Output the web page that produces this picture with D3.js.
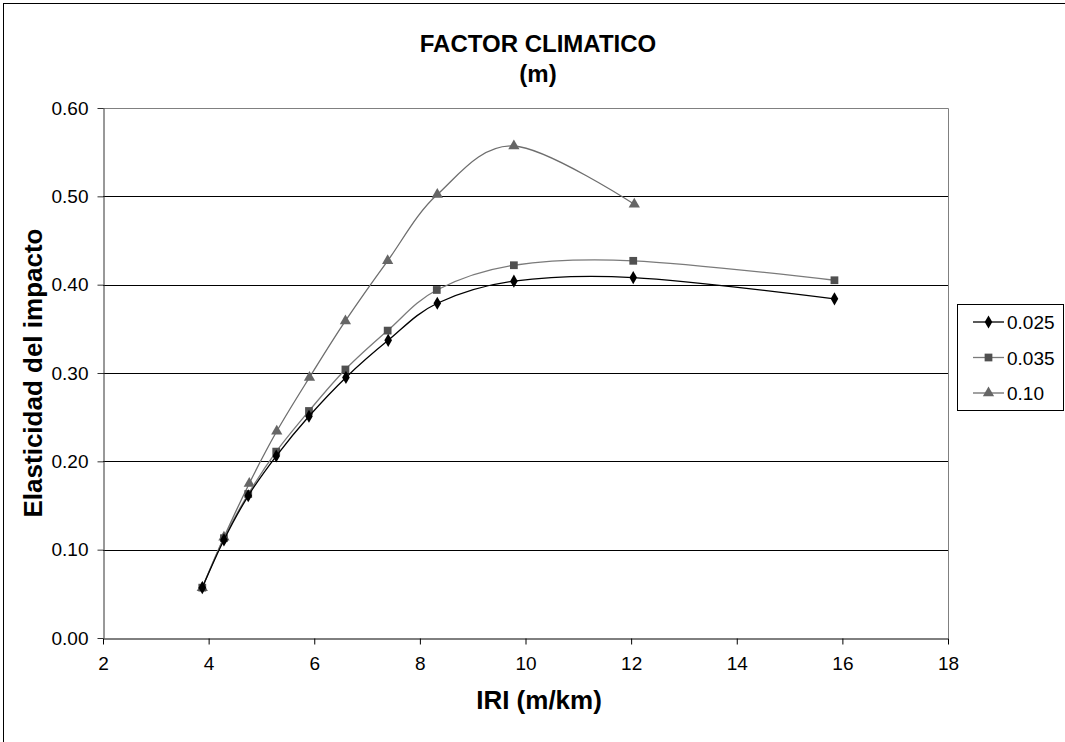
<!DOCTYPE html>
<html><head><meta charset="utf-8">
<script src="https://cdn.jsdelivr.net/npm/d3@7"></script>
<style>body{margin:0;background:#fff}svg{display:block;font-family:"Liberation Sans",Arial,sans-serif}</style>
</head><body>
<svg id="c" width="1065" height="742"></svg>
<script>
const seriesNames = ["0.025", "0.035", "0.10"];
const iri025 = [3.88, 4.29, 4.75, 5.28, 5.90, 6.60, 7.40, 8.33, 9.78, 12.04, 15.85];
const val025 = [0.057, 0.111, 0.161, 0.206, 0.251, 0.295, 0.337, 0.379, 0.404, 0.408, 0.384];
const iri035 = [3.88, 4.29, 4.75, 5.28, 5.90, 6.59, 7.39, 8.32, 9.78, 12.04, 15.85];
const val035 = [0.057, 0.113, 0.163, 0.211, 0.257, 0.304, 0.348, 0.394, 0.422, 0.427, 0.405];
const iri010 = [3.88, 4.29, 4.77, 5.29, 5.91, 6.59, 7.39, 8.33, 9.78, 12.06];
const val010 = [0.057, 0.114, 0.175, 0.234, 0.295, 0.359, 0.427, 0.502, 0.557, 0.491];
const xTicks = [2, 4, 6, 8, 10, 12, 14, 16, 18];
const yTicks = [0, 0.1, 0.2, 0.3, 0.4, 0.5, 0.6];

const svg = d3.select("#c");
const L = 103, R = 948, T = 108, B = 638;
const x = d3.scaleLinear().domain([2, 18]).range([L, R]);
const y = d3.scaleLinear().domain([0, 0.6]).range([B, T]);
const FF = "Liberation Sans, Arial, sans-serif";

// outer border
svg.append("rect").attr("x", 3.5).attr("y", 3.5).attr("width", 1070).attr("height", 760)
  .attr("fill", "none").attr("stroke", "#000").attr("stroke-width", 1);

// gridlines
svg.append("g").selectAll("line").data(yTicks.filter(d => d > 0 && d < 0.6)).join("line")
  .attr("x1", L).attr("x2", R).attr("y1", d => Math.round(y(d)) + 0.5).attr("y2", d => Math.round(y(d)) + 0.5)
  .attr("stroke", "#000").attr("stroke-width", 1);
// plot border top/right
svg.append("path").attr("d", `M${L},${T + 0.5}H${R + 0.5}V${B}`).attr("fill", "none").attr("stroke", "#808080");

// axes
const xAxis = d3.axisBottom(x).tickValues(xTicks).tickSize(6).tickSizeOuter(0).tickPadding(12).tickFormat(d3.format("d"));
const gx = svg.append("g").attr("transform", `translate(0,${B + 0.5})`).call(xAxis);
gx.select(".domain").attr("stroke", "#000");
gx.selectAll(".tick line").attr("stroke", "#000");
gx.selectAll("text").attr("font-size", 19).attr("fill", "#000").attr("font-family", FF);

const yAxis = d3.axisLeft(y).tickValues(yTicks).tickSize(6).tickSizeOuter(0).tickPadding(9).tickFormat(d3.format(".2f"));
const gy = svg.append("g").attr("transform", `translate(${L + 0.5},0)`).call(yAxis);
gy.select(".domain").attr("stroke", "#333");
gy.selectAll(".tick line").attr("stroke", "#333");
gy.selectAll("text").attr("font-size", 19).attr("fill", "#000").attr("font-family", FF);

// series
const series = [
  {name: seriesNames[0], xs: iri025, ys: val025, line: "#000", fill: "#000", shape: d3.symbolDiamond, size: 50},
  {name: seriesNames[1], xs: iri035, ys: val035, line: "#7a7a7a", fill: "#505050", shape: d3.symbolSquare, size: 60},
  {name: seriesNames[2], xs: iri010, ys: val010, line: "#6e6e6e", fill: "#666", shape: d3.symbolTriangle, size: 55}
];
const line = d3.line().x(d => x(d[0])).y(d => y(d[1])).curve(d3.curveCardinal.tension(0));
series.slice().reverse().forEach(s => {
  const pts = s.xs.map((v, i) => [v, s.ys[i]]);
  svg.append("path").attr("d", line(pts)).attr("fill", "none").attr("stroke", s.line).attr("stroke-width", 1.3);
  svg.append("g").selectAll("path").data(pts).join("path")
    .attr("d", d3.symbol().type(s.shape).size(s.size))
    .attr("transform", d => `translate(${x(d[0])},${y(d[1])})`)
    .attr("fill", s.fill);
});

// titles
svg.append("text").attr("x", 538).attr("y", 52).attr("text-anchor", "middle")
  .attr("font-size", 24).attr("font-weight", "bold").text("FACTOR CLIMATICO");
svg.append("text").attr("x", 538).attr("y", 82).attr("text-anchor", "middle")
  .attr("font-size", 24).attr("font-weight", "bold").text("(m)");
svg.append("text").attr("x", 539).attr("y", 709).attr("text-anchor", "middle")
  .attr("font-size", 26).attr("font-weight", "bold").text("IRI (m/km)");
svg.append("text").attr("transform", "translate(42,373) rotate(-90)").attr("text-anchor", "middle")
  .attr("font-size", 26).attr("font-weight", "bold").text("Elasticidad del impacto");

// legend
const lg = svg.append("g");
lg.append("rect").attr("x", 957.5).attr("y", 304.5).attr("width", 106).attr("height", 106)
  .attr("fill", "#fff").attr("stroke", "#000");
series.forEach((s, i) => {
  const cy = 322 + i * 35.5;
  lg.append("line").attr("x1", 973).attr("x2", 1004).attr("y1", cy).attr("y2", cy).attr("stroke", s.line).attr("stroke-width", 1.3);
  lg.append("path").attr("d", d3.symbol().type(s.shape).size(s.size)()).attr("transform", `translate(988.5,${cy})`).attr("fill", s.fill);
  lg.append("text").attr("x", 1007).attr("y", cy + 7).attr("font-size", 19).text(s.name);
});
</script>
</body></html>
